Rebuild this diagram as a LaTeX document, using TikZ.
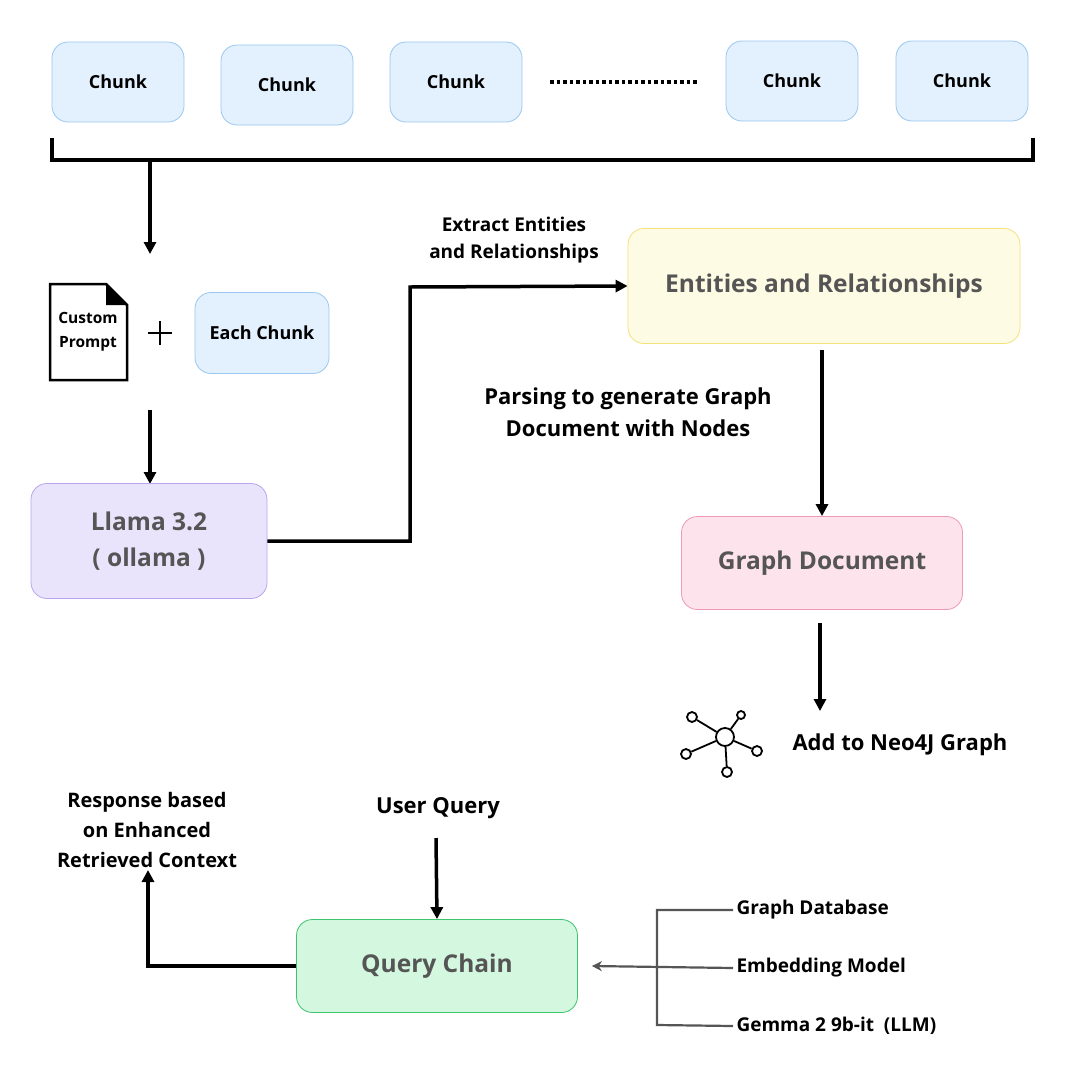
\documentclass[tikz,border=0pt]{standalone}
\usepackage{fontspec}
\setmainfont{Open Sans}
\usetikzlibrary{arrows.meta}
\definecolor{cb}{HTML}{E3F0FD}\definecolor{cbd}{HTML}{9CC8F0}
\definecolor{pf}{HTML}{EAE3FC}\definecolor{pd}{HTML}{B9A5EE}
\definecolor{yf}{HTML}{FEFBE5}\definecolor{yd}{HTML}{F5E27A}
\definecolor{kf}{HTML}{FDE4EC}\definecolor{kd}{HTML}{EF9AB5}
\definecolor{gf}{HTML}{D4F7E0}\definecolor{gd}{HTML}{3EC46D}
\definecolor{tg}{HTML}{555555}
\begin{document}
\begin{tikzpicture}[x=1pt,y=-1pt,
 box/.style={draw=#1,rounded corners=16pt,line width=0.8pt},
 chunk/.style={box=cbd,fill=cb,minimum width=132pt,minimum height=80pt,font=\fontsize{18}{20}\bfseries\selectfont},
 big/.style={font=\fontsize{24.5}{36}\bfseries\selectfont,text=tg,align=center},
 lbl/.style={font=\fontsize{20}{30}\bfseries\selectfont,align=center},
 sm/.style={font=\fontsize{19}{24}\bfseries\selectfont,anchor=west},
 arr/.style={line width=3.5pt,-{Triangle[length=12pt,width=12pt]}},
 ln/.style={line width=3.5pt}]
\path[use as bounding box,fill=white](0,0) rectangle (1080,1080);
\node[chunk] (c1) at (118,82) {Chunk};
\node[chunk] (c2) at (287,85) {Chunk};
\node[chunk] (c3) at (456,82) {Chunk};
\node[chunk] (c4) at (792,81) {Chunk};
\node[chunk] (c5) at (962,81) {Chunk};
\coordinate (d1) at (550,82); \coordinate (d2) at (698,82);
\draw[line width=3.5pt,dash pattern=on 3.5pt off 3pt] (d1) -- (d2);
\coordinate (b1) at (52,138); \coordinate (b2) at (1033,138);
\draw[line width=3.5pt] (b1) -- ++(0,22) -| (b2);
\coordinate (a1) at (150,160); \coordinate (a2) at (150,254);
\draw[arr] (a1) -- (a2);
% document icon
\draw[line width=2.5pt,fill=white] (50,284) -- (106,284) -- (127,305) -- (127,380) -- (50,380) -- cycle;
\fill (106,284) -- (127,305) -- (106,305) -- cycle;
\node[font=\fontsize{15.5}{24}\bfseries\selectfont,align=center] (doc) at (88,332) {Custom\\Prompt};
\draw[line width=1.3pt] (148,333) -- (172,333) (160,321) -- (160,345);
\node[box=cbd,fill=cb,minimum width=134pt,minimum height=81pt,font=\fontsize{18}{20}\bfseries\selectfont] (each) at (262,333) {Each Chunk};
\coordinate (a3) at (150,410); \coordinate (a4) at (150,484);
\draw[arr] (a3) -- (a4);
\node[box=pd,fill=pf,minimum width=236pt,minimum height=115pt,big] (llama) at (149,541) {Llama 3.2\\( ollama )};
\node[box=yd,fill=yf,minimum width=392pt,minimum height=115pt,big] (ent) at (824,286) {Entities and Relationships};
\draw[ln,-{Triangle[length=12pt,width=12pt]}] (llama.east) -- (410,541) -- (410,287) -- (ent.west);
\node[lbl,font=\fontsize{19}{27}\bfseries\selectfont] (ex) at (514,240) {Extract Entities\\and Relationships};
\node[box=kd,fill=kf,minimum width=281pt,minimum height=93pt,big] (gd) at (822,563) {Graph Document};
\coordinate (e1) at (822,350);
\draw[arr] (e1) -- (gd.north);
\node[lbl,font=\fontsize{22}{32}\bfseries\selectfont] (pl) at (628,412) {Parsing to generate Graph\\Document with Nodes};
\coordinate (g1) at (820,623); \coordinate (g2) at (820,711);
\draw[arr] (g1) -- (g2);
% network icon
\begin{scope}[line width=1.8pt]
\node[draw,circle,minimum size=18pt,inner sep=0] (hub) at (725,737) {};
\foreach \n/\p/\s in {s1/{(692,717)}/10pt,s2/{(741,715)}/8pt,s3/{(686,754)}/10pt,s4/{(757,751)}/10pt,s5/{(727,772)}/10pt}{
 \node[draw,circle,minimum size=\s,inner sep=0] (\n) at \p {};
 \draw (hub) -- (\n);}
\end{scope}
\node[sm,font=\fontsize{22}{26}\bfseries\selectfont] (neo) at (789,745) {Add to Neo4J Graph};
\node[lbl,font=\fontsize{22}{26}\bfseries\selectfont] (uq) at (438,808) {User Query};
\node[box=gd,fill=gf,minimum width=281pt,minimum height=93pt,big] (qc) at (437,966) {Query Chain};
\coordinate (u1) at (436,838);
\draw[arr] (u1) -- (qc.north);
\node[lbl] (resp) at (147,830) {Response based\\on Enhanced\\Retrieved Context};
\coordinate (r1) at (148,870);
\draw[ln,-{Triangle[length=12pt,width=12pt]}] (qc.west) -- (148,966) -- (r1);
\node[sm] (t1) at (733,910) {Graph Database};
\node[sm] (t2) at (733,968) {Embedding Model};
\node[sm] (t3) at (733,1026) {Gemma 2 9b-it\ \ (LLM)};
\draw[line width=2.2pt,draw=tg] (t1.west) -- (657,910) -- (657,1025) -- (t3.west);
\draw[line width=2.2pt,draw=tg,-{Stealth[length=10pt,width=10pt]}] (t2.west) -- ([xshift=14pt]qc.east);
\end{tikzpicture}
\end{document}
